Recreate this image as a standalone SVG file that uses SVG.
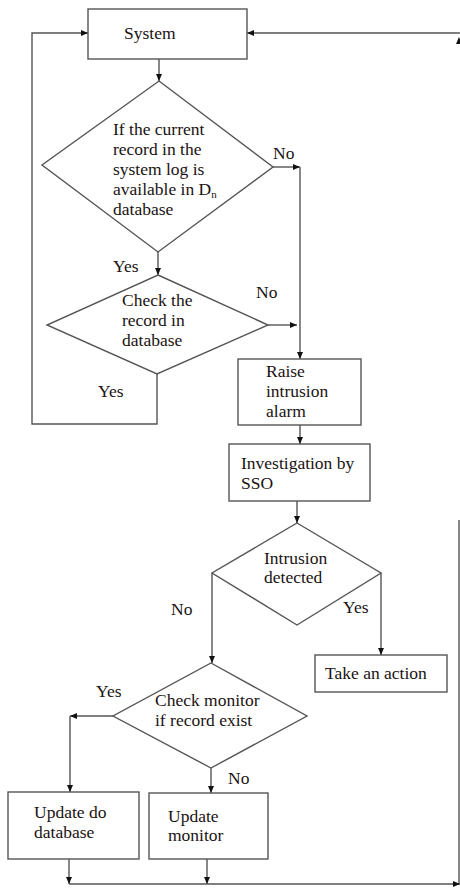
<svg xmlns="http://www.w3.org/2000/svg" width="460" height="890" viewBox="0 0 460 890">
<defs>
<marker id="ah" markerUnits="userSpaceOnUse" markerWidth="8" markerHeight="8" refX="7" refY="3" orient="auto">
<path d="M0,0 L7,3 L0,6 z" fill="#111"/>
</marker>
<style>
.n{fill:#fff;stroke:#555;stroke-width:1.4}
.c{fill:none;stroke:#555;stroke-width:1.4;marker-end:url(#ah)}
.p{fill:none;stroke:#555;stroke-width:1.4}
text{font-family:"Liberation Serif","Times New Roman",serif;font-size:17.5px;fill:#1a1212}
.s{font-size:11px}
</style>
</defs>
<rect width="460" height="890" fill="#fff"/>
<g id="connectors">
<path class="c" d="M159,59 V81"/>
<path class="c" d="M273,167 H300"/>
<path class="c" d="M300,167 V359"/>
<path class="c" d="M158,252 V275"/>
<path class="c" d="M268,325 H297"/>
<path class="c" d="M157,374 V424 H32 V33 H88"/>
<path class="c" d="M460,33 H247"/>
<polygon points="459,37 456,44 462,44" fill="#111"/>
<path class="p" d="M459,520 V884"/>
<path class="c" d="M300,425 V444"/>
<path class="c" d="M297,501 V523"/>
<path class="c" d="M212,573 V663"/>
<path class="c" d="M381,573 V655"/>
<path class="c" d="M113,716 H70"/>
<path class="c" d="M70,716 V792"/>
<path class="c" d="M211,768 V793"/>
<path class="c" d="M69,859 V884"/>
<path class="c" d="M207,859 V884"/>
<path class="c" d="M69,884 H460"/>
</g>
<g id="system">
<rect class="n" x="88" y="9" width="159" height="50"/>
<text x="124" y="39">System</text>
</g>
<g id="decision-current-record">
<polygon class="n" points="159,81 273,167 158,252 42,165"/>
<text x="113" y="135">If the current</text>
<text x="113" y="155">record in the</text>
<text x="113" y="175">system log is</text>
<text x="113" y="195">available in D<tspan class="s" dy="3">n</tspan></text>
<text x="113" y="215">database</text>
<text x="273" y="159">No</text>
<text x="113" y="272">Yes</text>
</g>
<g id="decision-check-record">
<polygon class="n" points="158,275 268,325 157,374 47,325"/>
<text x="122" y="306">Check the</text>
<text x="122" y="326">record in</text>
<text x="122" y="346">database</text>
<text x="256" y="298">No</text>
<text x="98" y="397">Yes</text>
</g>
<g id="raise-alarm">
<rect class="n" x="238" y="359" width="123" height="66"/>
<text x="266" y="377">Raise</text>
<text x="266" y="397">intrusion</text>
<text x="266" y="417">alarm</text>
</g>
<g id="investigation">
<rect class="n" x="229" y="444" width="141" height="57"/>
<text x="241" y="469">Investigation by</text>
<text x="241" y="489">SSO</text>
</g>
<g id="decision-intrusion">
<polygon class="n" points="297,523 381,573 297,625 212,573"/>
<text x="264" y="564">Intrusion</text>
<text x="264" y="583">detected</text>
<text x="343" y="613">Yes</text>
<text x="171" y="615">No</text>
</g>
<g id="take-action">
<rect class="n" x="315" y="655" width="132" height="37"/>
<text x="325" y="679">Take an action</text>
</g>
<g id="decision-monitor">
<polygon class="n" points="211,663 307,716 211,768 113,716"/>
<text x="155" y="706">Check monitor</text>
<text x="155" y="726">if record exist</text>
<text x="96" y="697">Yes</text>
<text x="228" y="784">No</text>
</g>
<g id="update-database">
<rect class="n" x="8" y="792" width="131" height="67"/>
<text x="34" y="818">Update do</text>
<text x="34" y="838">database</text>
</g>
<g id="update-monitor">
<rect class="n" x="149" y="793" width="119" height="66"/>
<text x="168" y="822">Update</text>
<text x="168" y="841">monitor</text>
</g>
</svg>
